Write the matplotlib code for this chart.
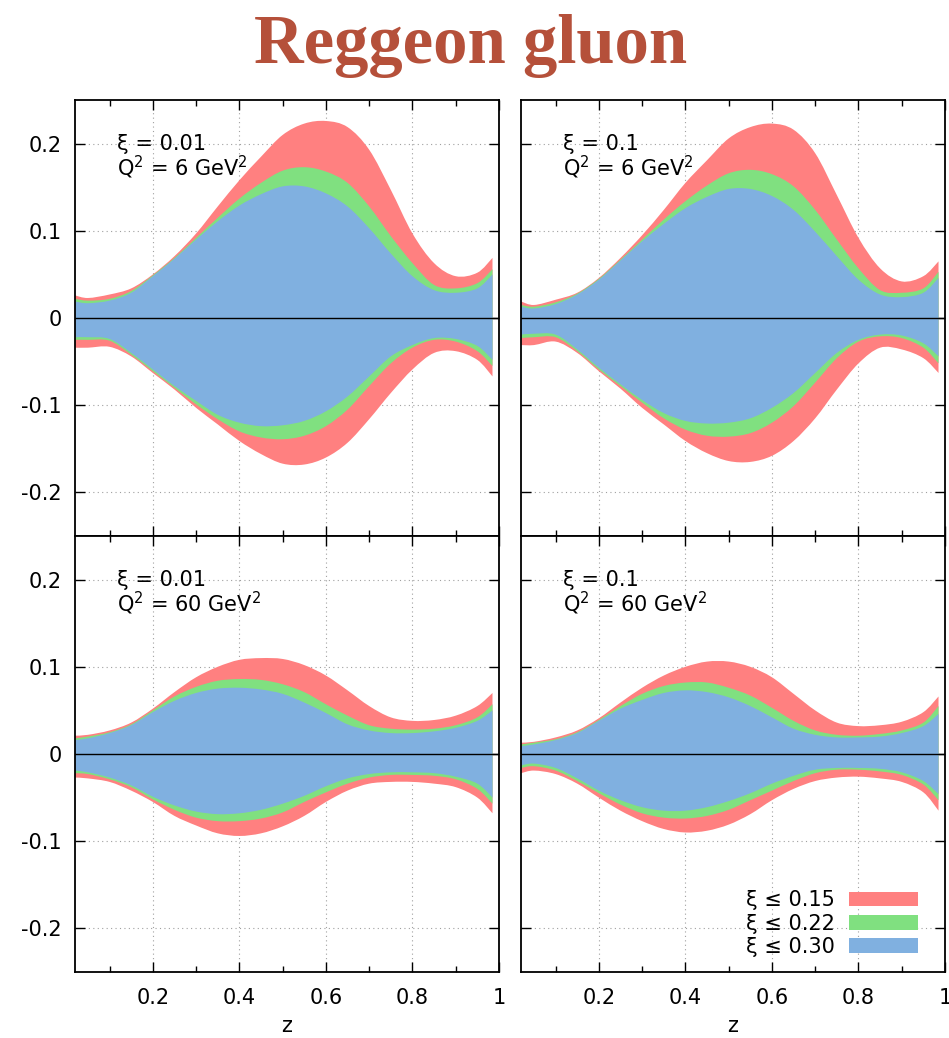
import matplotlib
matplotlib.use("Agg")
import matplotlib.pyplot as plt
from matplotlib.patches import Patch, PathPatch
from matplotlib.path import Path

plt.rcParams['font.family'] = ['DejaVu Sans']
plt.rcParams['mathtext.default'] = 'regular'

# z grid shared by all four panels
z = [0.02, 0.05, 0.1, 0.15, 0.2, 0.25, 0.3, 0.35, 0.4, 0.45, 0.5,
     0.55, 0.6, 0.65, 0.7, 0.75, 0.8, 0.85, 0.9, 0.95, 0.985]

band_labels = ["ξ ≤ 0.15", "ξ ≤ 0.22", "ξ ≤ 0.30"]
band_colors = ["#ff8080", "#80e080", "#80b0e0"]

# xi = 0.01, Q^2 = 6 GeV^2
a_red_hi = [0.026, 0.023, 0.027, 0.034, 0.050, 0.071, 0.097, 0.128, 0.158, 0.185, 0.210,
            0.223, 0.226, 0.219, 0.193, 0.147, 0.097, 0.063, 0.048, 0.052, 0.069]
a_grn_hi = [0.022, 0.020, 0.022, 0.031, 0.049, 0.069, 0.092, 0.115, 0.137, 0.155, 0.169,
            0.173, 0.168, 0.155, 0.128, 0.094, 0.063, 0.038, 0.034, 0.040, 0.056]
a_blu_hi = [0.019, 0.017, 0.020, 0.029, 0.048, 0.068, 0.090, 0.111, 0.129, 0.142, 0.151,
            0.151, 0.143, 0.128, 0.103, 0.074, 0.048, 0.032, 0.029, 0.034, 0.050]
a_red_lo = [-0.034, -0.034, -0.033, -0.044, -0.063, -0.082, -0.103, -0.122, -0.141, -0.156, -0.167,
            -0.168, -0.160, -0.143, -0.116, -0.086, -0.059, -0.040, -0.038, -0.048, -0.067]
a_grn_lo = [-0.025, -0.025, -0.026, -0.042, -0.061, -0.080, -0.099, -0.116, -0.130, -0.137, -0.139,
            -0.135, -0.124, -0.105, -0.078, -0.052, -0.034, -0.025, -0.027, -0.038, -0.055]
a_blu_lo = [-0.022, -0.022, -0.024, -0.040, -0.059, -0.078, -0.095, -0.111, -0.120, -0.124, -0.123,
            -0.118, -0.107, -0.090, -0.067, -0.044, -0.031, -0.023, -0.024, -0.032, -0.048]

# xi = 0.1, Q^2 = 6 GeV^2
b_red_hi = [0.019, 0.015, 0.021, 0.029, 0.046, 0.069, 0.095, 0.124, 0.155, 0.181, 0.206,
            0.219, 0.223, 0.216, 0.189, 0.141, 0.092, 0.057, 0.042, 0.048, 0.065]
b_grn_hi = [0.015, 0.013, 0.018, 0.028, 0.045, 0.067, 0.090, 0.113, 0.134, 0.152, 0.166,
            0.170, 0.165, 0.151, 0.124, 0.090, 0.057, 0.032, 0.029, 0.034, 0.053]
b_blu_hi = [0.013, 0.011, 0.016, 0.027, 0.044, 0.066, 0.088, 0.108, 0.126, 0.139, 0.148,
            0.148, 0.140, 0.124, 0.099, 0.071, 0.044, 0.027, 0.024, 0.029, 0.046]
b_red_lo = [-0.031, -0.031, -0.027, -0.040, -0.061, -0.081, -0.103, -0.122, -0.141, -0.155, -0.164,
            -0.165, -0.158, -0.141, -0.115, -0.082, -0.052, -0.034, -0.036, -0.046, -0.063]
b_grn_lo = [-0.023, -0.022, -0.022, -0.038, -0.059, -0.078, -0.097, -0.115, -0.128, -0.135, -0.136,
            -0.132, -0.120, -0.101, -0.074, -0.046, -0.027, -0.021, -0.023, -0.034, -0.052]
b_blu_lo = [-0.019, -0.018, -0.019, -0.036, -0.057, -0.076, -0.094, -0.109, -0.118, -0.121, -0.120,
            -0.115, -0.103, -0.086, -0.063, -0.040, -0.025, -0.019, -0.020, -0.029, -0.044]

# xi = 0.01, Q^2 = 60 GeV^2
c_red_hi = [0.021, 0.022, 0.027, 0.036, 0.052, 0.071, 0.088, 0.100, 0.108, 0.110, 0.109,
            0.102, 0.090, 0.073, 0.055, 0.042, 0.038, 0.039, 0.044, 0.055, 0.070]
c_grn_hi = [0.018, 0.020, 0.025, 0.034, 0.050, 0.066, 0.077, 0.084, 0.086, 0.085, 0.080,
            0.071, 0.057, 0.044, 0.033, 0.029, 0.028, 0.029, 0.033, 0.042, 0.057]
c_blu_hi = [0.016, 0.018, 0.024, 0.033, 0.048, 0.061, 0.070, 0.075, 0.076, 0.074, 0.069,
            0.059, 0.047, 0.034, 0.027, 0.024, 0.024, 0.026, 0.030, 0.038, 0.050]
c_red_lo = [-0.027, -0.028, -0.032, -0.042, -0.055, -0.071, -0.082, -0.091, -0.094, -0.091, -0.083,
            -0.071, -0.055, -0.042, -0.034, -0.032, -0.032, -0.034, -0.038, -0.050, -0.068]
c_grn_lo = [-0.022, -0.023, -0.029, -0.038, -0.052, -0.064, -0.073, -0.077, -0.077, -0.074, -0.067,
            -0.055, -0.044, -0.034, -0.027, -0.024, -0.024, -0.025, -0.029, -0.040, -0.057]
c_blu_lo = [-0.019, -0.021, -0.027, -0.036, -0.049, -0.059, -0.066, -0.069, -0.068, -0.064, -0.057,
            -0.048, -0.037, -0.028, -0.023, -0.021, -0.021, -0.022, -0.026, -0.034, -0.050]

# xi = 0.1, Q^2 = 60 GeV^2
d_red_hi = [0.013, 0.014, 0.019, 0.027, 0.041, 0.059, 0.076, 0.090, 0.100, 0.106, 0.106,
            0.100, 0.088, 0.069, 0.050, 0.036, 0.032, 0.033, 0.037, 0.048, 0.066]
d_grn_hi = [0.011, 0.013, 0.017, 0.025, 0.039, 0.055, 0.069, 0.078, 0.082, 0.082, 0.076,
            0.067, 0.053, 0.038, 0.027, 0.022, 0.021, 0.023, 0.027, 0.036, 0.055]
d_blu_hi = [0.009, 0.011, 0.016, 0.024, 0.038, 0.052, 0.062, 0.070, 0.073, 0.071, 0.065,
            0.055, 0.042, 0.029, 0.022, 0.019, 0.019, 0.020, 0.024, 0.032, 0.046]
d_red_lo = [-0.022, -0.019, -0.023, -0.034, -0.050, -0.065, -0.077, -0.086, -0.090, -0.088, -0.081,
            -0.069, -0.053, -0.040, -0.031, -0.027, -0.026, -0.028, -0.032, -0.044, -0.065]
d_grn_lo = [-0.016, -0.014, -0.019, -0.031, -0.045, -0.058, -0.068, -0.073, -0.074, -0.071, -0.064,
            -0.053, -0.042, -0.031, -0.022, -0.018, -0.018, -0.020, -0.024, -0.035, -0.053]
d_blu_lo = [-0.013, -0.011, -0.016, -0.028, -0.042, -0.053, -0.061, -0.065, -0.065, -0.061, -0.054,
            -0.045, -0.034, -0.025, -0.018, -0.016, -0.016, -0.017, -0.021, -0.031, -0.046]

panels = [
    ("ξ = 0.01", "6", [(a_red_lo, a_red_hi), (a_grn_lo, a_grn_hi), (a_blu_lo, a_blu_hi)]),
    ("ξ = 0.1", "6", [(b_red_lo, b_red_hi), (b_grn_lo, b_grn_hi), (b_blu_lo, b_blu_hi)]),
    ("ξ = 0.01", "60", [(c_red_lo, c_red_hi), (c_grn_lo, c_grn_hi), (c_blu_lo, c_blu_hi)]),
    ("ξ = 0.1", "60", [(d_red_lo, d_red_hi), (d_grn_lo, d_grn_hi), (d_blu_lo, d_blu_hi)]),
]


def smooth_segments(xs, ys):
    # cubic Bezier pieces through every point (Catmull-Rom tangents)
    pts = list(zip(xs, ys))
    n = len(pts)
    verts, codes = [], []
    for k in range(n - 1):
        p0 = pts[max(k - 1, 0)]
        p1 = pts[k]
        p2 = pts[k + 1]
        p3 = pts[min(k + 2, n - 1)]
        c1 = (p1[0] + (p2[0] - p0[0]) / 6, p1[1] + (p2[1] - p0[1]) / 6)
        c2 = (p2[0] - (p3[0] - p1[0]) / 6, p2[1] - (p3[1] - p1[1]) / 6)
        verts += [c1, c2, p2]
        codes += [Path.CURVE4] * 3
    return verts, codes


def band_patch(xs, lo, hi, color):
    verts = [(xs[0], hi[0])]
    codes = [Path.MOVETO]
    v, c = smooth_segments(xs, hi)
    verts += v
    codes += c
    verts.append((xs[-1], lo[-1]))
    codes.append(Path.LINETO)
    v, c = smooth_segments(xs[::-1], lo[::-1])
    verts += v
    codes += c
    verts.append((xs[0], hi[0]))
    codes.append(Path.CLOSEPOLY)
    return PathPatch(Path(verts, codes), facecolor=color, edgecolor="none", zorder=2)


fig = plt.figure(figsize=(9.49, 10.38), dpi=100)
fig.text(0.496, 1 - 63 / 1038, "Reggeon gluon", ha="center", va="baseline",
         fontsize=49.5, fontweight="bold", family="Liberation Serif", color="#b5503a")

lefts = [0.0790, 0.549]
bottoms = [0.4836, 0.0636]
w, h = 0.4468, 0.42

for i, (xi_txt, q2, bands) in enumerate(panels):
    row, col = divmod(i, 2)
    ax = fig.add_axes([lefts[col], bottoms[row], w, h])
    for (lo, hi), c in zip(bands, band_colors):
        ax.add_patch(band_patch(z, lo, hi, c))
    ax.axhline(0, color="black", linewidth=1.0, zorder=3)

    ax.set_xlim(0.02, 1.0)
    ax.set_ylim(-0.25, 0.25)
    ax.set_xticks([0.2, 0.4, 0.6, 0.8, 1.0])
    ax.set_xticks([0.1, 0.3, 0.5, 0.7, 0.9], minor=True)
    ax.set_yticks([-0.2, -0.1, 0, 0.1, 0.2])
    ax.grid(True, which="major", linestyle=(0, (1, 3)), color="#a0a0a0", linewidth=0.8, zorder=0)
    ax.set_axisbelow(True)
    ax.tick_params(which="both", direction="in", top=True, right=True, labelsize=15)
    ax.tick_params(which="major", length=7, width=1)
    ax.tick_params(which="minor", length=4, width=1)
    ax.tick_params(axis="x", pad=11.5)
    ax.tick_params(axis="y", pad=9.3)
    for s in ax.spines.values():
        s.set_linewidth(1.3)

    if col == 0:
        ax.set_yticklabels(["-0.2", "-0.1", "0", "0.1", "0.2"])
    else:
        ax.set_yticklabels([])
    if row == 1:
        ax.set_xticklabels(["0.2", "0.4", "0.6", "0.8", "1"])
        ax.set_xlabel("z", fontsize=15, labelpad=6)
    else:
        ax.set_xticklabels([])

    ax.text(0.10, 0.90, xi_txt, transform=ax.transAxes, fontsize=15, va="center", ha="left")
    ax.text(0.10, 0.845, "Q$^2$ = " + q2 + " GeV$^2$", transform=ax.transAxes,
            fontsize=15, va="center", ha="left")

    if i == 3:
        handles = [Patch(facecolor=c, edgecolor="none") for c in band_colors]
        ax.legend(handles, band_labels, loc="lower right", bbox_to_anchor=(0.936, 0.035),
                  frameon=False, fontsize=15, markerfirst=False, handlelength=3.3,
                  handleheight=0.7, labelspacing=0.15, handletextpad=0.7, borderpad=0,
                  borderaxespad=0)

fig.savefig("out.png", dpi=100)
